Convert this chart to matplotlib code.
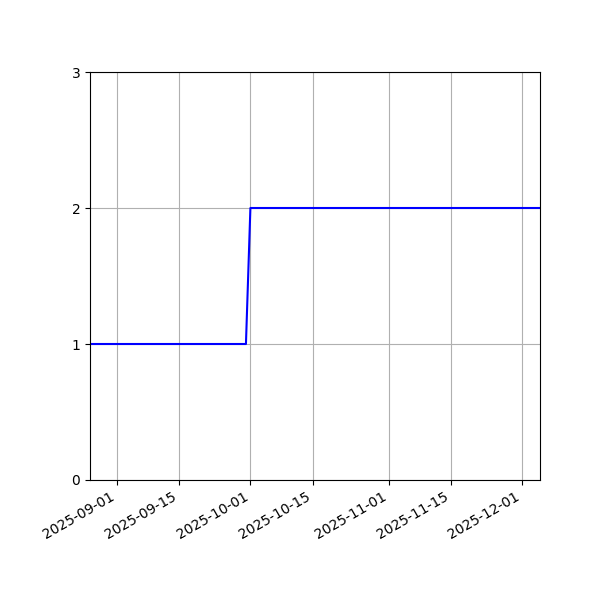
"""
Step chart of a count over time, autumn 2025
"""

from datetime import datetime

import matplotlib

matplotlib.use("Agg")

import matplotlib.pyplot as plt
import matplotlib.dates as mdates

# Data points
dates = [
    datetime(2025, 8, 26),
    datetime(2025, 9, 30),
    datetime(2025, 10, 1),
    datetime(2025, 12, 5),
]
values = [1, 1, 2, 2]

y_ticks = [0, 1, 2, 3]


def plot_counts(dates, values):
    fig, ax = plt.subplots(figsize=(6, 6), dpi=100)
    ax.plot(dates, values, color="blue")

    ax.set_xlim(dates[0], dates[-1])
    ax.set_ylim(0, 3)
    ax.set_yticks(y_ticks)
    ax.xaxis.set_major_formatter(mdates.DateFormatter("%Y-%m-%d"))
    ax.grid(True)

    fig.autofmt_xdate()
    fig.subplots_adjust(left=0.15, right=0.9, top=0.88, bottom=0.2)
    fig.savefig("out.png")
    plt.close(fig)


if __name__ == "__main__":
    plot_counts(dates, values)
